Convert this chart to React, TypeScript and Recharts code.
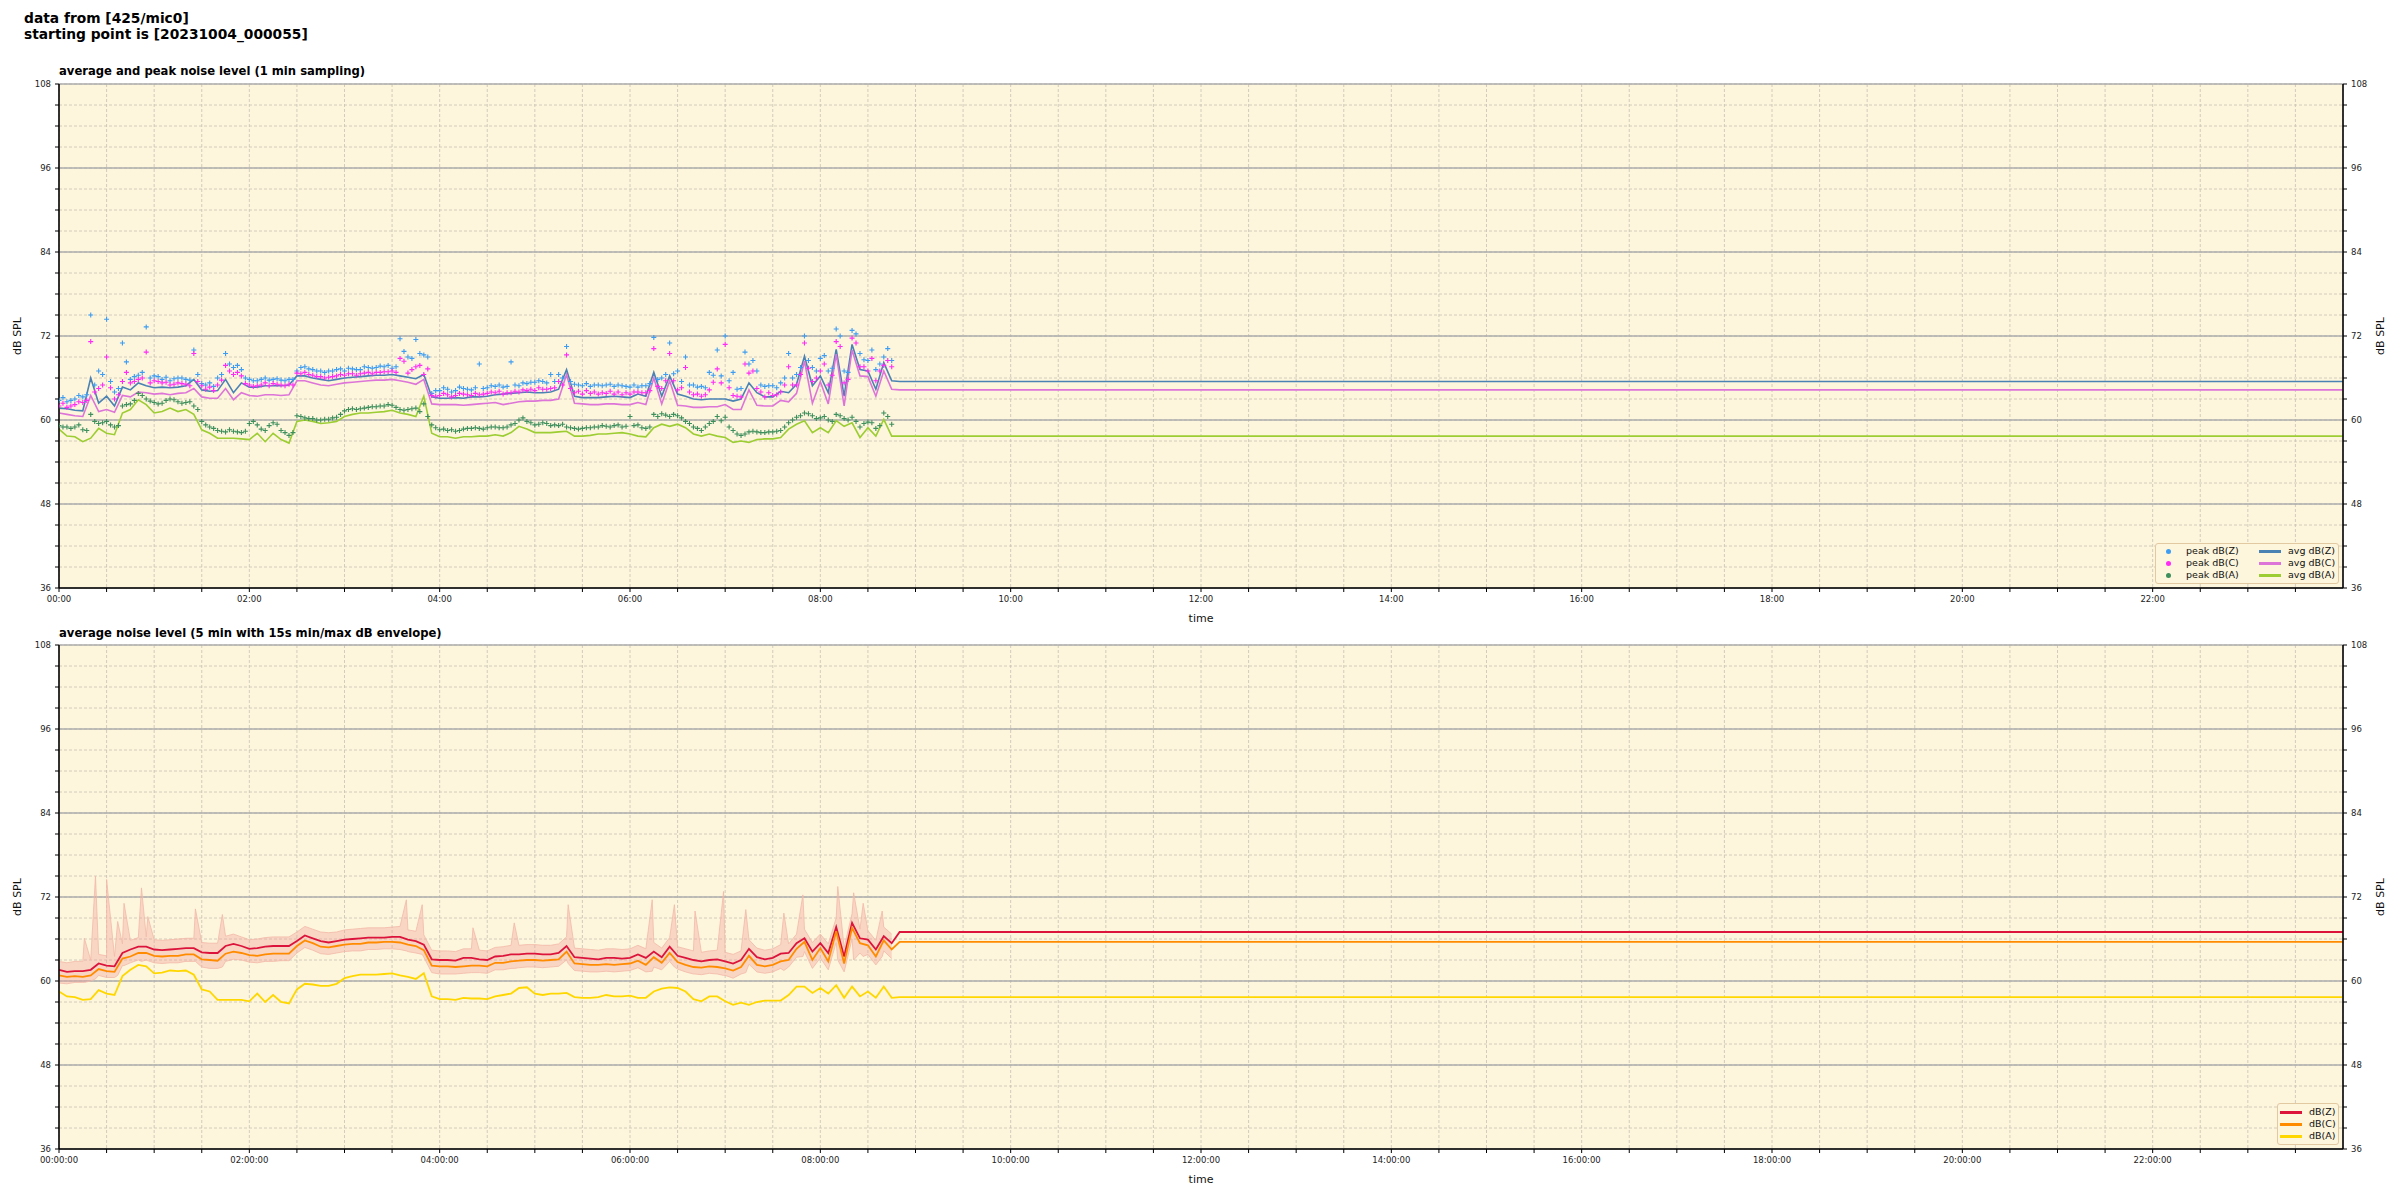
import React from 'react';
import { ComposedChart, Line, Scatter, Area, XAxis, YAxis, CartesianGrid } from 'recharts';

const FONT = '"DejaVu Sans", sans-serif';
const PLOT_BG = '#fdf5dc';

// 5-minute samples from 00:00 to 08:45, then the last level holds to the end of the day
const avgZ = [
  61.7, 61.6, 61.4, 61.3, 66.0, 62.4, 63.4, 62.0, 64.7, 64.3,
  65.3, 64.9, 64.6, 64.7, 64.6, 64.7, 64.9, 65.8, 64.3, 64.1,
  64.2, 65.8, 63.9, 65.3, 64.7, 64.7, 64.9, 64.9, 64.9, 65.0,
  66.3, 66.3, 66.0, 65.8, 65.6, 65.8, 66.0, 66.1, 66.2, 66.3,
  66.4, 66.4, 66.5, 66.3, 66.1, 65.9, 66.5, 63.3, 63.1, 63.1,
  63.2, 63.1, 63.3, 63.3, 63.4, 63.6,
  63.7, 63.8, 63.9, 64.0, 63.9, 63.9, 64.0, 64.4, 67.2, 63.4,
  63.2, 63.2, 63.2, 63.3, 63.4, 63.3, 63.2, 63.7, 63.4, 66.8,
  63.4, 66.3, 63.7, 63.4, 63.0, 62.9, 63.0, 63.0, 63.0, 62.7,
  63.0, 65.3, 63.9, 63.3, 63.3, 64.1, 63.9, 65.1, 69.1, 64.9,
  66.3, 63.9, 70.1, 63.4, 70.8, 67.2, 67.0, 64.4, 68.2, 65.6,
];
const avgC = [
  61.0, 60.8, 60.6, 60.5, 63.5, 61.2, 61.5, 61.1, 63.5, 63.3,
  64.0, 63.9, 63.7, 63.8, 63.6, 63.8, 63.9, 64.5, 63.3, 63.1,
  63.1, 64.5, 62.9, 63.9, 63.5, 63.4, 63.6, 63.6, 63.5, 63.6,
  65.6, 65.6, 65.3, 65.0, 64.9, 65.1, 65.3, 65.4, 65.5, 65.6,
  65.7, 65.7, 65.8, 65.6, 65.4, 65.1, 65.8, 62.3, 62.2, 62.2,
  62.2, 62.1, 62.2, 62.3, 62.4, 62.5,
  62.2, 62.4, 62.6, 62.7, 62.7, 62.8, 62.8, 63.0, 66.5, 62.4,
  62.3, 62.2, 62.2, 62.3, 62.3, 62.2, 62.2, 62.5, 62.2, 66.0,
  62.3, 65.6, 62.1, 62.0, 61.8, 61.8, 61.9, 61.9, 62.2, 61.5,
  61.5, 64.3, 62.1, 62.0, 62.0, 62.8, 62.6, 63.8, 68.4, 62.4,
  65.5, 62.3, 69.4, 62.0, 70.0, 66.3, 66.2, 63.4, 67.0, 64.4,
];
const avgA = [
  58.7, 57.7, 57.6, 56.9, 57.4, 58.8, 58.1, 57.9, 61.0, 61.5,
  62.9, 62.2, 61.0, 61.2, 61.7, 61.2, 61.5, 60.8, 58.6, 58.1,
  57.4, 57.4, 57.4, 57.3, 57.2, 58.1, 56.9, 58.1, 57.2, 56.7,
  59.8, 60.0, 59.8, 59.5, 59.6, 59.8, 60.5, 60.8, 61.0, 61.0,
  61.1, 61.2, 61.4, 61.0, 60.8, 60.5, 63.4, 58.1, 57.6, 57.6,
  57.4, 57.6, 57.6, 57.7, 57.7, 57.9,
  57.7, 58.2, 59.1, 58.7, 58.2, 58.2, 58.2, 58.3, 58.4, 57.7,
  57.7, 57.8, 58.0, 58.0, 58.1, 58.2, 58.0, 57.7, 57.6, 58.9,
  59.4, 59.1, 59.4, 58.9, 58.0, 57.7, 58.0, 57.7, 57.5, 56.8,
  57.0, 56.8, 57.2, 57.3, 57.3, 57.5, 58.7, 59.4, 59.9, 58.2,
  58.9, 58.2, 59.9, 59.1, 59.6, 57.5, 58.9, 57.7, 60.1, 57.7,
];
// 1-minute peaks, read at the full and half 5-minute marks
const peakZ = [
  62.8, 62.6, 63.0, 63.3, 75.0, 67.0, 74.4, 64.0, 71.0, 65.8,
  66.4, 73.3, 66.3, 65.8, 65.6, 66.0, 65.8, 70.0, 65.2, 65.3,
  66.0, 69.5, 67.5, 67.2, 65.8, 65.6, 66.0, 65.8, 65.7, 65.8,
  67.0, 67.6, 67.2, 67.0, 67.0, 67.2, 67.0, 67.3, 67.2, 67.5,
  67.5, 67.6, 67.4, 71.6, 69.0, 71.5, 69.3, 63.8, 64.2, 64.4,
  64.2, 64.5, 64.3, 68.0, 64.6, 64.8,
  64.7, 68.3, 64.9, 65.2, 65.4, 65.5, 66.5, 66.5, 70.5, 65.1,
  64.9, 64.8, 65.0, 65.0, 64.8, 64.9, 64.7, 64.7, 64.9, 71.8,
  66.0, 71.0, 67.0, 69.0, 65.0, 64.8, 66.8, 70.0, 72.0, 66.8,
  64.5, 68.0, 67.0, 64.8, 64.9, 65.3, 69.5, 66.5, 72.0, 67.5,
  68.8, 67.0, 73.0, 67.0, 72.8, 69.5, 68.5, 67.2, 69.0, 68.5,
];
const peakZMid = [
  63.2, 62.8, 63.5, 63.6, 65.0, 66.5, 65.5, 64.5, 68.3, 66.2,
  66.8, 66.0, 66.2, 66.1, 65.9, 66.0, 65.7, 66.5, 65.0, 64.8,
  66.5, 68.0, 67.8, 66.0, 65.6, 65.8, 65.7, 65.9, 65.6, 65.8,
  67.5, 67.3, 67.0, 66.8, 67.0, 67.3, 67.4, 67.2, 67.6, 67.4,
  67.7, 67.8, 67.6, 69.8, 68.8, 69.5, 69.0, 64.2, 64.6, 64.0,
  64.7, 64.4, 64.6, 64.5, 64.9, 65.0,
  64.8, 65.0, 65.3, 65.4, 65.6, 65.3, 65.5, 66.0, 65.5, 65.0,
  65.2, 65.0, 64.9, 65.1, 65.0, 64.8, 65.0, 64.9, 65.2, 65.8,
  66.5, 66.6, 65.5, 65.0, 64.7, 64.6, 66.4, 66.3, 65.6, 64.4,
  69.7, 68.5, 65.0, 64.9, 64.6, 66.0, 66.0, 67.5, 68.5, 67.0,
  69.2, 67.4, 72.0, 66.8, 72.3, 68.6, 70.0, 68.0, 70.2,
];
const peakC = [
  62.0, 61.8, 62.2, 62.5, 71.2, 64.5, 69.0, 63.0, 65.5, 65.3,
  65.8, 69.7, 65.6, 65.3, 65.0, 65.3, 65.1, 69.5, 64.9, 64.7,
  65.0, 67.8, 66.5, 66.3, 65.0, 64.9, 65.3, 65.2, 65.0, 65.1,
  66.7, 66.8, 66.4, 66.2, 66.1, 66.3, 66.4, 66.6, 66.6, 66.8,
  66.8, 66.9, 67.0, 68.8, 66.7, 67.6, 66.5, 63.5, 63.5, 63.6,
  63.5, 63.7, 63.5, 63.6, 63.8, 63.9,
  63.7, 63.9, 64.0, 64.2, 64.2, 64.4, 64.5, 65.5, 69.3, 63.9,
  63.7, 63.8, 63.7, 63.8, 63.7, 63.6, 63.7, 64.0, 63.9, 70.2,
  64.5, 69.5, 64.3, 67.5, 63.6, 63.4, 64.3, 67.3, 70.8, 63.5,
  63.3, 66.7, 64.5, 63.3, 63.5, 64.0, 67.6, 65.0, 71.0, 65.5,
  67.0, 65.0, 71.2, 65.3, 71.7, 67.6, 67.0, 65.6, 67.8, 67.6,
];
const peakCMid = [
  62.4, 62.0, 62.6, 62.8, 64.0, 65.0, 64.6, 63.6, 66.8, 65.5,
  66.0, 65.3, 65.5, 65.4, 65.1, 65.2, 64.9, 65.5, 64.4, 64.2,
  65.7, 67.0, 66.8, 65.2, 64.8, 65.0, 64.9, 65.1, 64.9, 65.0,
  66.6, 66.5, 66.2, 66.0, 66.2, 66.5, 66.6, 66.4, 66.7, 66.6,
  66.8, 66.9, 66.8, 68.4, 67.2, 67.8, 67.3, 63.4, 63.8, 63.3,
  63.8, 63.6, 63.8, 63.7, 64.0, 64.1,
  63.9, 64.1, 64.3, 64.4, 64.6, 64.4, 64.6, 65.0, 64.5, 64.1,
  64.2, 64.0, 63.9, 64.1, 64.0, 63.9, 64.0, 63.9, 64.2, 64.8,
  65.6, 65.6, 64.6, 64.0, 63.7, 63.6, 65.4, 65.3, 64.6, 63.4,
  68.0, 67.0, 64.0, 63.9, 63.6, 65.0, 65.0, 66.5, 67.4, 66.0,
  68.0, 66.4, 70.5, 65.8, 71.0, 67.6, 68.8, 67.0, 68.5,
];
const peakA = [
  59.2, 59.0, 59.0, 58.6, 60.8, 59.5, 59.8, 59.0, 62.0, 62.3,
  63.8, 63.0, 62.5, 62.4, 63.0, 62.6, 62.5, 62.0, 59.8, 59.0,
  58.5, 58.3, 58.4, 58.2, 59.5, 59.3, 58.5, 59.6, 58.5, 57.8,
  60.6, 60.3, 60.2, 60.0, 60.1, 60.4, 61.3, 61.6, 61.6, 61.8,
  61.9, 62.0, 62.1, 61.5, 61.5, 61.7, 62.3, 59.3, 58.6, 58.5,
  58.4, 58.7, 58.8, 58.8, 58.9, 59.0,
  58.9, 59.3, 60.0, 59.8, 59.3, 59.6, 59.2, 59.2, 59.0, 58.8,
  58.8, 58.9, 59.0, 59.1, 59.2, 59.0, 60.5, 59.3, 58.8, 60.8,
  60.9, 60.5, 60.6, 59.8, 59.0, 58.5, 59.5, 60.5, 60.4, 58.5,
  57.8, 58.3, 58.3, 58.2, 58.3, 58.5, 59.6, 60.4, 61.0, 60.6,
  60.3, 60.0, 60.8, 60.2, 60.4, 59.0, 59.7, 58.8, 61.0, 59.4,
];
const peakAMid = [
  59.0, 58.8, 59.3, 58.5, 59.8, 59.6, 59.3, 59.2, 62.2, 62.8,
  63.5, 62.7, 62.3, 62.8, 62.9, 62.4, 62.6, 61.5, 59.3, 58.8,
  58.4, 58.6, 58.3, 58.4, 59.8, 58.7, 59.2, 59.4, 58.2, 58.2,
  60.5, 60.2, 60.0, 60.1, 60.3, 60.8, 61.5, 61.5, 61.7, 61.9,
  62.0, 62.2, 61.8, 61.4, 61.6, 61.2, 60.5, 58.9, 58.7, 58.6,
  58.5, 58.8, 58.9, 58.7, 59.0, 58.9,
  59.0, 59.5, 60.3, 59.6, 59.4, 59.5, 59.3, 59.4, 58.9, 58.7,
  58.9, 59.0, 59.2, 59.0, 59.3, 59.1, 59.2, 58.9, 59.0, 60.5,
  60.7, 60.8, 60.3, 59.5, 58.8, 59.0, 59.8, 59.9, 59.0, 58.0,
  58.0, 58.4, 58.2, 58.3, 58.4, 59.0, 60.0, 60.6, 60.9, 60.2,
  60.5, 59.8, 60.6, 60.0, 59.8, 59.5, 59.6, 59.2, 60.5,
];

// 5 min averages, lower panel
const levZ = [
  61.6, 61.3, 61.4, 61.4, 61.6, 62.5, 62.2, 62.1, 64.0, 64.5,
  64.9, 64.9, 64.5, 64.4, 64.5, 64.6, 64.7, 64.7, 64.1, 64.0,
  64.0, 65.0, 65.3, 65.0, 64.6, 64.7, 64.9, 65.0, 65.0, 65.0,
  65.7, 66.5, 66.1, 65.7, 65.5, 65.7, 65.9, 66.0, 66.1, 66.2,
  66.2, 66.2, 66.3, 66.3, 65.9, 65.7, 65.2, 63.1, 63.0, 63.0,
  62.9, 63.3, 63.3, 63.1, 63.0, 63.5,
  63.6, 63.8, 63.8, 63.9, 63.9, 63.8, 63.8, 64.0, 65.0, 63.4,
  63.3, 63.2, 63.1, 63.3, 63.3, 63.2, 63.3, 63.8, 63.3, 64.2,
  63.4, 64.9, 63.6, 63.3, 63.0, 62.8, 63.0, 63.1, 62.8, 62.5,
  63.0, 64.6, 63.4, 63.1, 63.3, 63.9, 64.0, 65.4, 66.1, 64.2,
  65.4, 64.0, 67.7, 63.5, 68.3, 66.1, 65.9, 64.5, 66.4, 65.4,
];
const levC = [
  60.8, 60.6, 60.7, 60.6, 60.8, 61.7, 61.4, 61.3, 63.2, 63.5,
  64.0, 64.0, 63.6, 63.5, 63.6, 63.6, 63.8, 63.8, 63.1, 63.0,
  62.9, 63.9, 64.2, 64.0, 63.7, 63.6, 63.8, 63.9, 63.9, 63.9,
  65.0, 65.8, 65.4, 64.9, 64.8, 65.0, 65.2, 65.3, 65.3, 65.5,
  65.5, 65.6, 65.6, 65.5, 65.2, 65.0, 64.4, 62.2, 62.1, 62.1,
  62.0, 62.1, 62.2, 62.2, 62.1, 62.6,
  62.6, 62.8, 62.9, 63.0, 63.0, 62.9, 63.0, 63.1, 64.2, 62.5,
  62.4, 62.3, 62.3, 62.4, 62.3, 62.4, 62.5, 62.9, 62.3, 63.4,
  62.6, 64.0, 62.7, 62.3, 62.0, 61.9, 62.1, 62.0, 61.8, 61.5,
  62.0, 63.6, 62.3, 62.1, 62.3, 62.8, 63.0, 64.6, 65.6, 63.0,
  64.7, 62.8, 67.1, 62.5, 67.6, 65.4, 65.1, 63.5, 65.8, 64.5,
];
const levA = [
  58.5, 57.8, 57.7, 57.3, 57.4, 58.7, 58.2, 58.0, 60.7, 61.6,
  62.3, 62.1, 61.1, 61.2, 61.5, 61.4, 61.5, 60.9, 58.8, 58.5,
  57.3, 57.3, 57.3, 57.3, 57.1, 58.2, 57.0, 58.0, 57.0, 56.8,
  58.8, 59.6, 59.5, 59.3, 59.3, 59.6, 60.4, 60.7, 60.9, 60.9,
  60.9, 61.0, 61.1, 60.8, 60.6, 60.3, 61.1, 57.8, 57.4, 57.4,
  57.3, 57.6, 57.5, 57.5, 57.4, 57.8,
  58.0, 58.2, 59.0, 59.1, 58.2, 58.0, 58.2, 58.2, 58.3, 57.7,
  57.6, 57.6, 57.7, 58.0, 57.8, 57.8, 57.9, 57.6, 57.6, 58.5,
  58.9, 59.1, 59.0, 58.5, 57.4, 57.1, 57.8, 57.8, 57.1, 56.6,
  56.9, 56.6, 57.0, 57.2, 57.2, 57.2, 58.0, 59.2, 59.2, 58.3,
  59.0, 58.2, 59.4, 57.6, 59.2, 57.8, 58.5, 57.6, 59.2, 57.6,
];
// 15s min / max envelope: 5-minute band plus the short spikes
const envHi = [
  62.8, 62.6, 62.8, 62.8, 63.0, 63.8, 63.6, 63.5, 65.3, 65.8,
  66.2, 66.3, 65.9, 65.8, 65.9, 66.0, 66.1, 66.1, 65.5, 65.4,
  65.4, 66.4, 66.7, 66.3, 65.9, 66.0, 66.2, 66.3, 66.3, 66.3,
  67.0, 67.8, 67.4, 67.0, 66.9, 67.0, 67.3, 67.4, 67.5, 67.6,
  67.6, 67.6, 67.7, 67.8, 67.3, 67.1, 66.6, 64.4, 64.3, 64.3,
  64.2, 64.6, 64.6, 64.4, 64.3, 64.8,
  64.9, 65.1, 65.1, 65.2, 65.2, 65.1, 65.1, 65.3, 66.3, 64.7,
  64.6, 64.5, 64.4, 64.6, 64.6, 64.5, 64.6, 65.1, 64.6, 65.5,
  64.7, 66.2, 64.9, 64.6, 64.3, 64.1, 64.3, 64.4, 64.1, 63.8,
  64.3, 65.9, 64.7, 64.4, 64.6, 65.2, 65.3, 66.7, 67.4, 65.5,
  66.7, 65.3, 69.0, 64.8, 69.6, 67.4, 67.2, 65.8, 67.7, 66.7,
];
const envLo = [
  59.7, 59.6, 59.8, 59.8, 60.0, 60.8, 60.5, 60.5, 62.2, 62.6,
  63.0, 63.0, 62.6, 62.5, 62.6, 62.6, 62.8, 62.8, 62.0, 61.8,
  61.8, 62.8, 63.1, 63.0, 62.7, 62.6, 62.8, 62.8, 62.9, 62.9,
  64.0, 64.8, 64.4, 63.9, 63.8, 64.0, 64.2, 64.3, 64.3, 64.5,
  64.5, 64.6, 64.6, 64.5, 64.2, 64.0, 63.4, 61.2, 61.0, 61.0,
  61.0, 61.1, 61.2, 61.2, 61.1, 61.6,
  61.6, 61.8, 61.9, 62.0, 62.0, 61.9, 62.0, 62.1, 63.0, 61.5,
  61.4, 61.3, 61.3, 61.4, 61.3, 61.4, 61.5, 61.9, 61.3, 62.0,
  61.6, 62.8, 61.7, 61.3, 61.0, 60.9, 61.1, 61.0, 60.8, 60.4,
  61.0, 62.4, 61.3, 61.1, 61.3, 61.8, 62.0, 63.4, 64.2, 61.8,
  63.3, 61.6, 65.5, 61.3, 66.0, 64.0, 63.8, 62.3, 64.3, 63.2,
];
const spikeMinutes = [16, 23, 30, 37, 41, 52, 56, 86, 103, 219, 229, 261, 287, 321, 374, 388, 401, 419, 433, 457, 469, 491, 501, 507, 519];
const spikeHi = [66.1, 75.0, 74.5, 68.5, 71.1, 73.3, 69.2, 70.3, 69.5, 71.6, 70.9, 67.6, 68.3, 70.9, 71.6, 70.9, 70.0, 72.8, 70.2, 69.7, 72.3, 73.5, 72.6, 71.1, 70.0];
const spikeLo = [59.8, 60.3, 60.5, 60.8, 62.2, 62.8, 62.9, 62.8, 62.0, 64.3, 63.8, 61.2, 61.8, 62.5, 61.4, 62.0, 61.0, 60.8, 61.2, 61.5, 63.5, 63.0, 63.0, 63.5, 63.5];

// held level after the recording stops
const tailMinutes = [530, 1440];
const avgZTail = [65.5, 65.5];
const avgCTail = [64.3, 64.3];
const avgATail = [57.7, 57.7];
const levZTail = [67.0, 67.0];
const levCTail = [65.6, 65.6];
const levATail = [57.7, 57.7];

const sampleMinutes = avgZ.map((_, i) => i * 5);
const midMinutes = peakZMid.map((_, i) => 2.5 + i * 5);
const timeTicks = Array.from({ length: 48 }, (_, i) => i * 30);
const timeMajor = Array.from({ length: 12 }, (_, i) => i * 120);
const dbTicks = Array.from({ length: 25 }, (_, i) => 36 + i * 3);
const dbMajor = [36, 48, 60, 72, 84, 96, 108];

const series = (vals: number[], tail: number[]) =>
  sampleMinutes.map((t, i) => ({ t, v: vals[i] })).concat(tailMinutes.map((t, j) => ({ t, v: tail[j] })));
const points = (vals: number[], mids: number[]) =>
  sampleMinutes.map((t, i) => ({ t, v: vals[i] })).concat(midMinutes.map((t, i) => ({ t, v: mids[i] })));
const envelope = sampleMinutes
  .map((t, i) => ({ t, v: [envLo[i], envHi[i]] }))
  .concat(spikeMinutes.map((t, j) => ({ t, v: [spikeLo[j], spikeHi[j]] })))
  .sort((a, b) => a.t - b.t);

const pad = (n: number) => String(n).padStart(2, '0');
const hhmm = (m: number) => (m % 120 === 0 ? `${pad(m / 60)}:00` : '');
const hhmmss = (m: number) => (m % 120 === 0 ? `${pad(m / 60)}:00:00` : '');
const dbLabel = (v: number) => (v % 12 === 0 ? String(v) : '');

const cross = (color: string) => (p: any) => (
  <path d={`M${p.cx - 2.5},${p.cy}h5M${p.cx},${p.cy - 2.5}v5`} stroke={color} strokeWidth={1.1} fill="none" />
);

const tickStyle = { fontSize: 8.5, fill: '#222', fontFamily: FONT };
const axisLine = { stroke: '#000', strokeWidth: 1.5 };

function frame(timeFmt: (m: number) => string) {
  return [
    <CartesianGrid key="g1" xAxisId="x" yAxisId="y" fill={PLOT_BG} fillOpacity={1} stroke="#c8c2b2" strokeDasharray="3 2" strokeWidth={0.8} />,
    <CartesianGrid key="g2" xAxisId="xMajor" yAxisId="yMajor" stroke="#adadad" strokeWidth={1.4} />,
    <XAxis key="x" xAxisId="x" dataKey="t" type="number" domain={[0, 1440]} allowDataOverflow ticks={timeTicks} interval={0}
      tickFormatter={timeFmt} height={36} tickSize={4} tickMargin={4} tick={tickStyle} axisLine={axisLine} tickLine={{ stroke: '#000' }}
      label={{ value: 'time', position: 'insideBottom', offset: 2, fontSize: 11, fill: '#111', fontFamily: FONT }} />,
    <XAxis key="xm" xAxisId="xMajor" type="number" domain={[0, 1440]} allowDataOverflow ticks={timeMajor} interval={0} hide />,
    <XAxis key="xt" xAxisId="top" orientation="top" type="number" domain={[0, 1440]} allowDataOverflow height={0} tick={false} tickLine={false} axisLine={axisLine} />,
    <YAxis key="y" yAxisId="y" type="number" domain={[36, 108]} allowDataOverflow ticks={dbTicks} interval={0} tickFormatter={dbLabel}
      width={50} tickSize={4} tickMargin={4} tick={tickStyle} axisLine={axisLine} tickLine={{ stroke: '#000' }}
      label={{ value: 'dB SPL', angle: -90, position: 'insideLeft', offset: 8, textAnchor: 'middle', fontSize: 11, fill: '#111', fontFamily: FONT }} />,
    <YAxis key="ym" yAxisId="yMajor" type="number" domain={[36, 108]} allowDataOverflow ticks={dbMajor} interval={0} hide />,
    <YAxis key="yr" yAxisId="yRight" orientation="right" type="number" domain={[36, 108]} allowDataOverflow ticks={dbTicks} interval={0} tickFormatter={dbLabel}
      width={50} tickSize={4} tickMargin={4} tick={tickStyle} axisLine={axisLine} tickLine={{ stroke: '#000' }}
      label={{ value: 'dB SPL', angle: -90, position: 'insideRight', offset: 13, textAnchor: 'middle', fontSize: 11, fill: '#111', fontFamily: FONT }} />,
  ];
}

const title: React.CSSProperties = { position: 'absolute', fontFamily: FONT, fontWeight: 'bold', whiteSpace: 'nowrap', color: '#000' };

function LegendRow({ y, x, mark, label }: { y: number; x: number; mark: React.ReactNode; label: string }) {
  return (
    <div style={{ position: 'absolute', left: x, top: y - 6, height: 12, display: 'flex', alignItems: 'center' }}>
      {mark}
      <span style={{ marginLeft: 7, lineHeight: '12px' }}>{label}</span>
    </div>
  );
}
const dot = (c: string) => (
  <span style={{ display: 'inline-block', width: 5, height: 5, borderRadius: 3, background: c, margin: '0 8px 0 4px' }} />
);
const bar = (c: string) => <span style={{ display: 'inline-block', width: 22, height: 3, background: c }} />;

const legendBox: React.CSSProperties = {
  position: 'absolute', background: PLOT_BG, border: '1px solid #e2c9a2', borderRadius: 3,
  fontFamily: FONT, fontSize: 9.5, color: '#111',
};

export default function App() {
  return (
    <div style={{ position: 'absolute', left: 0, top: 0, width: 2400, height: 1200, background: '#fff', overflow: 'hidden' }}>
      <div style={{ ...title, left: 24, top: 10, fontSize: 13.8, lineHeight: '16px' }}>
        data from [425/mic0]<br />starting point is [20231004_000055]
      </div>
      <div style={{ ...title, left: 59, top: 64, fontSize: 11.6 }}>average and peak noise level (1 min sampling)</div>
      <div style={{ ...title, left: 59, top: 626, fontSize: 11.6 }}>average noise level (5 min with 15s min/max dB envelope)</div>

      <div style={{ position: 'absolute', left: 0, top: 0 }}>
        <ComposedChart width={2400} height={640} margin={{ top: 84, right: 7, left: 9, bottom: 16 }}>
          {frame(hhmm)}
          <Scatter data={points(peakZ, peakZMid)} dataKey="v" xAxisId="x" yAxisId="y" shape={cross('#3d9df2')} isAnimationActive={false} />
          <Scatter data={points(peakC, peakCMid)} dataKey="v" xAxisId="x" yAxisId="y" shape={cross('#ff2bf5')} isAnimationActive={false} />
          <Scatter data={points(peakA, peakAMid)} dataKey="v" xAxisId="x" yAxisId="y" shape={cross('#3d8f5c')} isAnimationActive={false} />
          <Line data={series(avgZ, avgZTail)} dataKey="v" xAxisId="x" yAxisId="y" stroke="#4a82b4" strokeWidth={1.6} dot={false} isAnimationActive={false} />
          <Line data={series(avgC, avgCTail)} dataKey="v" xAxisId="x" yAxisId="y" stroke="#dd74d8" strokeWidth={1.6} dot={false} isAnimationActive={false} />
          <Line data={series(avgA, avgATail)} dataKey="v" xAxisId="x" yAxisId="y" stroke="#9ccd32" strokeWidth={1.6} dot={false} isAnimationActive={false} />
        </ComposedChart>
      </div>

      <div style={{ position: 'absolute', left: 0, top: 600 }}>
        <ComposedChart width={2400} height={600} margin={{ top: 45, right: 7, left: 9, bottom: 15 }}>
          {frame(hhmmss)}
          <Area data={envelope} dataKey="v" xAxisId="x" yAxisId="y" type="linear" stroke="#f2b9a8" strokeWidth={0.8} fill="#f09a96" fillOpacity={0.35} isAnimationActive={false} />
          <Line data={series(levZ, levZTail)} dataKey="v" xAxisId="x" yAxisId="y" stroke="#dc143c" strokeWidth={1.8} dot={false} isAnimationActive={false} />
          <Line data={series(levC, levCTail)} dataKey="v" xAxisId="x" yAxisId="y" stroke="#ff8c00" strokeWidth={1.8} dot={false} isAnimationActive={false} />
          <Line data={series(levA, levATail)} dataKey="v" xAxisId="x" yAxisId="y" stroke="#ffd700" strokeWidth={1.8} dot={false} isAnimationActive={false} />
        </ComposedChart>
      </div>

      <div style={{ ...legendBox, left: 2155, top: 543, width: 182, height: 39 }}>
        <LegendRow x={6} y={7} mark={dot('#3d9df2')} label="peak dB(Z)" />
        <LegendRow x={6} y={19} mark={dot('#ff2bf5')} label="peak dB(C)" />
        <LegendRow x={6} y={31} mark={dot('#3d8f5c')} label="peak dB(A)" />
        <LegendRow x={103} y={7} mark={bar('#4a82b4')} label="avg dB(Z)" />
        <LegendRow x={103} y={19} mark={bar('#dd74d8')} label="avg dB(C)" />
        <LegendRow x={103} y={31} mark={bar('#9ccd32')} label="avg dB(A)" />
      </div>
      <div style={{ ...legendBox, left: 2277, top: 1103, width: 60, height: 40 }}>
        <LegendRow x={2} y={8} mark={bar('#dc143c')} label="dB(Z)" />
        <LegendRow x={2} y={20} mark={bar('#ff8c00')} label="dB(C)" />
        <LegendRow x={2} y={32} mark={bar('#ffd700')} label="dB(A)" />
      </div>
    </div>
  );
}
